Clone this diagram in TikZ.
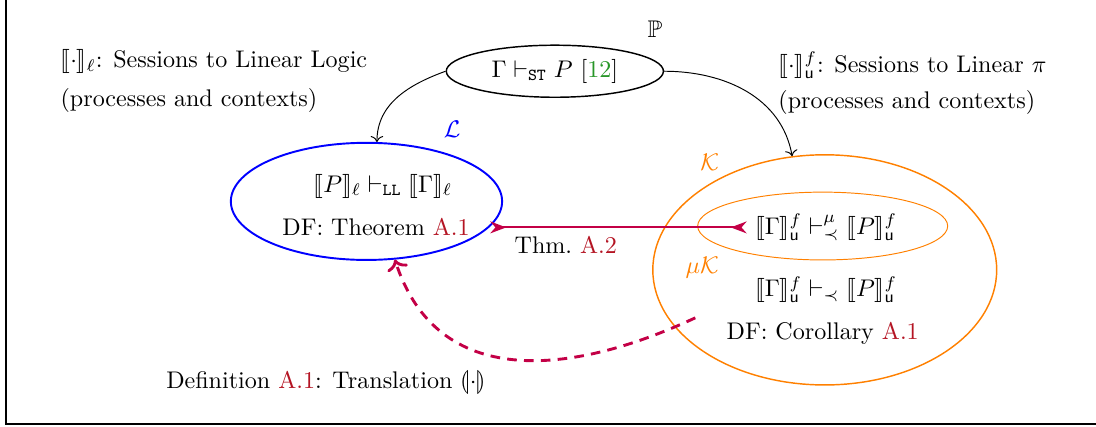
\documentclass[tikz,border=0pt]{standalone}
\usepackage{amsmath,amssymb}
\usepackage{stmaryrd}
\usetikzlibrary{positioning, arrows.meta, shapes.geometric}
\definecolor{refRed}{RGB}{180,20,35}
\definecolor{citeGreen}{RGB}{40,150,40}
\definecolor{transPurple}{RGB}{195,0,70}
\definecolor{llBlue}{RGB}{0,0,255}
\definecolor{kOrange}{RGB}{255,128,0}
\newcommand{\semb}[1]{\llbracket #1 \rrbracket}
\newcommand{\refA}[1]{\textcolor{refRed}{#1}}

\begin{document}
\begin{tikzpicture}[
  world/.style={ellipse, draw=#1, inner sep=0pt},
  thm/.style={transPurple, thick, {Stealth[reversed]}-{Stealth[reversed]}},
  transl/.style={transPurple, very thick, dash pattern=on 4pt off 3pt, ->},
]
\useasboundingbox (0,0) rectangle (16,6.22);

% Frame
\draw[line width=0.6pt] (0.09,6.22) -- (0.09,0.03) -- (16,0.03);

% Session types
\node[world=black, semithick, minimum width=3.17cm, minimum height=0.76cm] (P) at (8.10,5.18) {$\Gamma \vdash_{\mathtt{ST}} P$ [\textcolor{citeGreen}{12}]};
\node (Plab) at (9.56,5.79) {$\mathbb{P}$};

% Encodings
\node[anchor=west, align=left] (encL) at (0.76,5.04) {$\semb{\cdot}_{\ell}$: Sessions to Linear Logic\\[4pt](processes and contexts)};
\node[anchor=west, align=left] (encK) at (11.24,5.0) {$\semb{\cdot}^{f}_{\mathsf{u}}$: Sessions to Linear $\pi$\\[3pt](processes and contexts)};

% Linear logic
\node[world=llBlue, thick, minimum width=3.96cm, minimum height=1.71cm] (L) at (5.35,3.28) {};
\node[text=llBlue] (Llab) at (6.60,4.33) {$\mathcal{L}$};
\node (Ljudg) at (5.59,3.50) {$\semb{P}_{\ell} \vdash_{\mathtt{LL}} \semb{\Gamma}_{\ell}$};
\node (Ldf) at (5.49,2.90) {DF: Theorem \refA{A.1}};

% Linear pi
\node[world=kOrange, semithick, minimum width=5.02cm, minimum height=3.36cm] (K) at (12.04,2.28) {};
\node[world=kOrange, minimum width=3.65cm, minimum height=0.99cm] (muK) at (12.01,2.92) {};
\node[text=kOrange] (Klab) at (10.36,3.85) {$\mathcal{K}$};
\node[text=kOrange] (muKlab) at (10.25,2.31) {$\mu\mathcal{K}$};
\node (mujudg) at (12.06,2.90) {$\semb{\Gamma}^{f}_{\mathsf{u}} \vdash^{\mu}_{\prec} \semb{P}^{f}_{\mathsf{u}}$};
\node (Kjudg) at (12.06,1.99) {$\semb{\Gamma}^{f}_{\mathsf{u}} \vdash_{\prec} \semb{P}^{f}_{\mathsf{u}}$};
\node (Kdf) at (12.01,1.36) {DF: Corollary \refA{A.1}};

% Arrows from P
\draw[->] (P.west) to[out=200, in=90] (L.80);
\draw[->] (P.east) to[out=0, in=100] (K.106);

% Theorem A.2
\draw[thm] ([xshift=5pt]Ldf.east) -- (mujudg.west);
\node (thmlab) at (8.26,2.64) {Thm.\ \refA{A.2}};

% Translation
\coordinate (trans) at (10.15,1.58);
\draw[transl] (trans) to[out=205, in=-72, looseness=1.15] (L.-64);
\node (translab) at (4.76,0.63) {Definition \refA{A.1}: Translation $\llparenthesis\cdot\rrparenthesis$};

\end{tikzpicture}
\end{document}
